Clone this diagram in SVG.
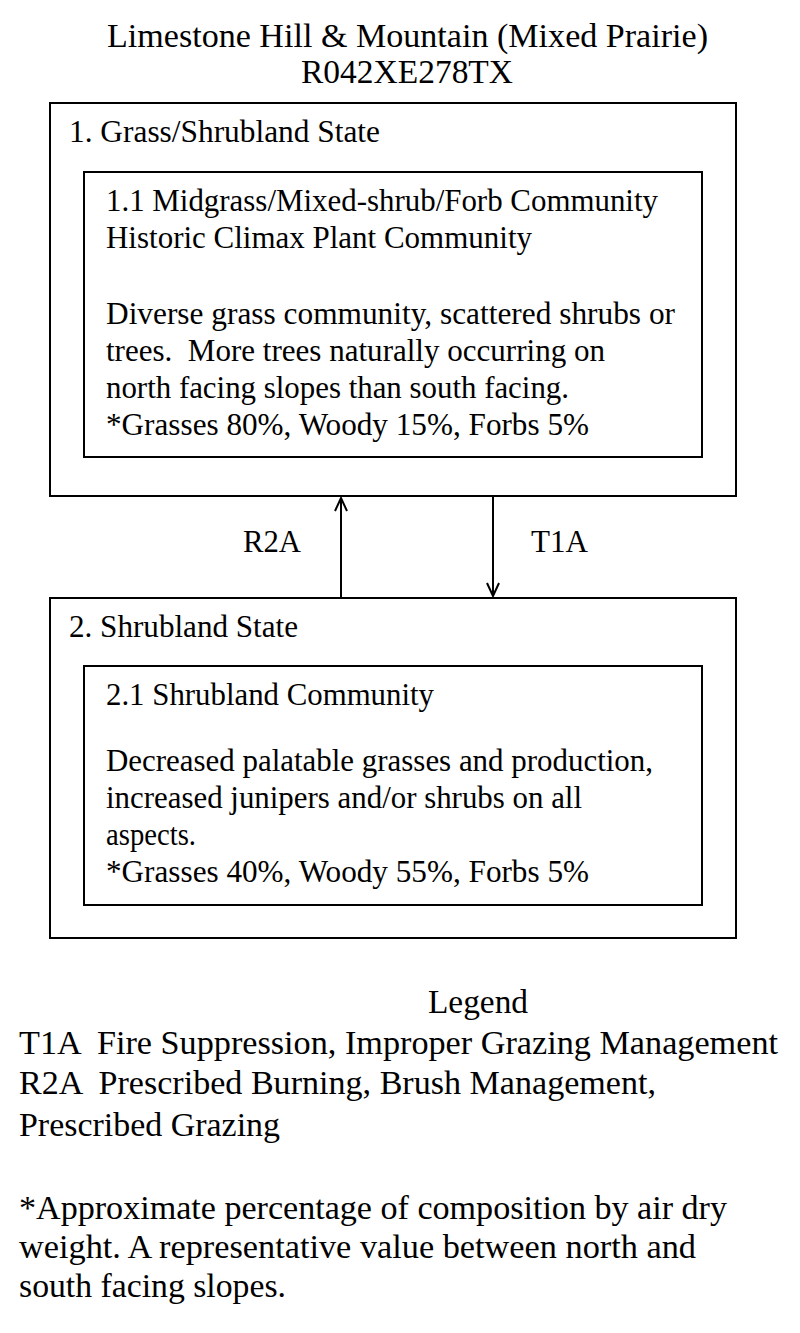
<svg xmlns="http://www.w3.org/2000/svg" width="800" height="1333" viewBox="0 0 800 1333">
<style>
text{font-family:"Liberation Serif","Times New Roman",serif;fill:#000}
.t{font-size:33px}
.b{font-size:31px}
.box{fill:none;stroke:#000;stroke-width:2}
.con{fill:none;stroke:#000;stroke-width:2}
</style>
<defs>
<marker id="ah" markerWidth="16" markerHeight="16" refX="14" refY="8" orient="auto" markerUnits="userSpaceOnUse">
<path d="M1,2 L14,8 L1,14" fill="none" stroke="#000" stroke-width="2"/>
</marker>
</defs>
<rect width="800" height="1333" fill="#fff"/>
<g id="title">
<text class="t" x="107" y="47" textLength="601" lengthAdjust="spacingAndGlyphs">Limestone Hill &amp; Mountain (Mixed Prairie)</text>
<text class="t" x="301" y="83" textLength="212" lengthAdjust="spacingAndGlyphs">R042XE278TX</text>
</g>
<g id="state1">
<rect class="box" x="50" y="103" width="686" height="393"/>
<text class="b" x="69" y="142" textLength="311" lengthAdjust="spacingAndGlyphs">1. Grass/Shrubland State</text>
</g>
<g id="community1_1">
<rect class="box" x="84" y="172" width="618" height="285"/>
<text class="b" x="106" y="211" textLength="552" lengthAdjust="spacingAndGlyphs">1.1 Midgrass/Mixed-shrub/Forb Community</text>
<text class="b" x="106" y="248" textLength="426" lengthAdjust="spacingAndGlyphs">Historic Climax Plant Community</text>
<text class="b" x="106" y="324" textLength="569" lengthAdjust="spacingAndGlyphs">Diverse grass community, scattered shrubs or</text>
<text class="b" x="106" y="361" textLength="499" lengthAdjust="spacingAndGlyphs" xml:space="preserve">trees.  More trees naturally occurring on</text>
<text class="b" x="106" y="398" textLength="463" lengthAdjust="spacingAndGlyphs">north facing slopes than south facing.</text>
<text class="b" x="106" y="435" textLength="483" lengthAdjust="spacingAndGlyphs">*Grasses 80%, Woody 15%, Forbs 5%</text>
</g>
<g id="connectors">
<line class="con" x1="341" y1="598" x2="341" y2="498" marker-end="url(#ah)"/>
<line class="con" x1="493" y1="496" x2="493" y2="596" marker-end="url(#ah)"/>
<text class="b" x="243" y="552" textLength="58" lengthAdjust="spacingAndGlyphs">R2A</text>
<text class="b" x="531" y="552" textLength="57" lengthAdjust="spacingAndGlyphs">T1A</text>
</g>
<g id="state2">
<rect class="box" x="50" y="598" width="686" height="340"/>
<text class="b" x="69" y="637" textLength="229" lengthAdjust="spacingAndGlyphs">2. Shrubland State</text>
</g>
<g id="community2_1">
<rect class="box" x="84" y="666" width="618" height="239"/>
<text class="b" x="106" y="705" textLength="328" lengthAdjust="spacingAndGlyphs">2.1 Shrubland Community</text>
<text class="b" x="106" y="771" textLength="547" lengthAdjust="spacingAndGlyphs">Decreased palatable grasses and production,</text>
<text class="b" x="106" y="808" textLength="476" lengthAdjust="spacingAndGlyphs">increased junipers and/or shrubs on all</text>
<text class="b" x="106" y="845" textLength="90" lengthAdjust="spacingAndGlyphs">aspects.</text>
<text class="b" x="106" y="882" textLength="483" lengthAdjust="spacingAndGlyphs">*Grasses 40%, Woody 55%, Forbs 5%</text>
</g>
<g id="legend">
<text class="t" x="428" y="1013" textLength="100" lengthAdjust="spacingAndGlyphs">Legend</text>
<text class="t" x="19" y="1054" textLength="759" lengthAdjust="spacingAndGlyphs" xml:space="preserve">T1A  Fire Suppression, Improper Grazing Management</text>
<text class="t" x="19" y="1094" textLength="637" lengthAdjust="spacingAndGlyphs" xml:space="preserve">R2A  Prescribed Burning, Brush Management,</text>
<text class="t" x="19" y="1136" textLength="261" lengthAdjust="spacingAndGlyphs">Prescribed Grazing</text>
<text class="t" x="19" y="1219" textLength="708" lengthAdjust="spacingAndGlyphs">*Approximate percentage of composition by air dry</text>
<text class="t" x="19" y="1258" textLength="677" lengthAdjust="spacingAndGlyphs">weight. A representative value between north and</text>
<text class="t" x="19" y="1297" textLength="267" lengthAdjust="spacingAndGlyphs">south facing slopes.</text>
</g>
</svg>
